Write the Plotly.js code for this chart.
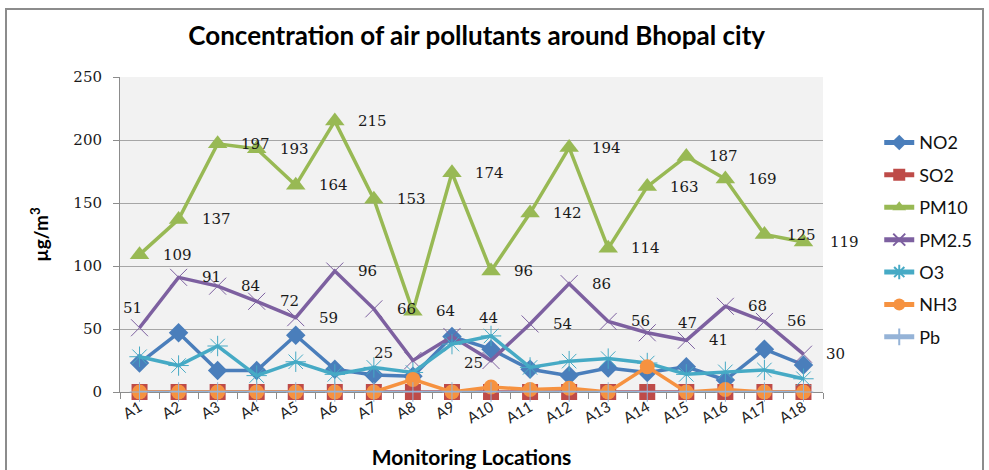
<!DOCTYPE html>
<html>
<head>
<meta charset="utf-8">
<script src="https://cdn.plot.ly/plotly-3.0.1.min.js"></script>
<style>
  html, body { margin: 0; padding: 0; background: #fff; }
  #wrap { position: relative; width: 989px; height: 470px; overflow: hidden; }
  #chart { width: 989px; height: 470px; }
  #frame { position: absolute; left: 5px; top: 8px; width: 979px; height: 480px;
           border: 2px solid #8c8c8c; pointer-events: none; box-sizing: border-box; }
</style>
</head>
<body>
<div id="wrap">
  <div id="chart"></div>
  <div id="frame"></div>
</div>
<script>
// ---- data ----
const locations = ["A1","A2","A3","A4","A5","A6","A7","A8","A9","A10","A11","A12","A13","A14","A15","A16","A17","A18"];
const no2  = [23, 47, 17, 17, 45, 18, 13.5, 12.5, 44, 34, 18, 13, 19, 15.5, 20, 9.5, 34, 21.5];
const so2  = [0, 0, 0, 0, 0, 0, 0, 0, 0, 0, 0, 0, 0, 0, 0, 0, 0, 0];
const pm10 = [109, 137, 197, 193, 164, 215, 153, 64, 174, 96, 142, 194, 114, 163, 187, 169, 125, 119];
const pm25 = [51, 91, 84, 72, 59, 96, 66, 25, 44, 25, 54, 86, 56, 47, 41, 68, 56, 30];
const o3   = [28, 21, 36.5, 13, 24, 14, 19.5, 15.5, 38, 44.5, 19.5, 24.5, 26.5, 23, 14, 16, 17.5, 10.5];
const nh3  = [0, 0, 0, 0, 0, 0, 0, 10, 0, 4, 2, 3, 0, 20, 0, 2, 0, 0];
const pb   = [0, 0, 0, 0, 0, 0, 0, 0, 0, 0, 0, 0, 0, 0, 0, 0, 0, 0];

// ---- label placement (style only) ----
const pm10LabelPos = locations.map((_, i) => ({xanchor: "left", xshift: i === 17 ? 25 : 21, yshift: 0}));
const pm25LabelPos = locations.map(() => ({xanchor: "left", xshift: 21, yshift: 0}));
pm25LabelPos[0]  = {xanchor: "center", xshift: -7, yshift: 20};
pm25LabelPos[7]  = {xanchor: "right", xshift: -18, yshift: 8};
pm25LabelPos[8]  = {xanchor: "left", xshift: 25, yshift: 19};
pm25LabelPos[9]  = {xanchor: "right", xshift: -6, yshift: -2};
pm25LabelPos[13] = {xanchor: "left", xshift: 29, yshift: 10};

const labelFont = {family: "DejaVu Serif, serif", size: 15, color: "#1a1a1a"};

function line(name, y, color, symbol, size, extra) {
  const t = {
    type: "scatter", mode: "lines+markers", name: name, x: locations, y: y,
    legendgroup: name, cliponaxis: false,
    line: {color: color, width: 3.5},
    marker: {symbol: symbol, size: size, color: color}
  };
  return Object.assign(t, extra || {});
}

const traces = [
  line("NO2", no2, "#4A7EBB", "diamond", 15),
  line("SO2", so2, "#BE4B48", "square", 16),
  line("PM10", pm10, "#98B954", "triangle-up", 17),
  line("PM2.5", pm25, "#7D60A0", "x-thin-open", 17,
       {marker: {symbol: "x-thin-open", size: 17, line: {color: "#9D86C0", width: 1}}}),
  line("O3", o3, "#46AAC5", "asterisk-open", 17,
       {marker: {symbol: "asterisk-open", size: 17, line: {color: "#6CC0D6", width: 1}}}),
  line("NH3", nh3, "#F69240", "circle", 15),
  line("Pb", pb, "#95B3D7", "cross-thin-open", 14,
       {line: {color: "#95B3D7", width: 2.5},
        marker: {symbol: "cross-thin-open", size: 14, line: {color: "#95B3D7", width: 1}}})
];

const annotations = [];
pm10.forEach((v, i) => {
  const p = pm10LabelPos[i];
  annotations.push({x: locations[i], y: v, text: String(v), showarrow: false,
    xanchor: p.xanchor, yanchor: "middle", xshift: p.xshift, yshift: p.yshift, font: labelFont});
});
pm25.forEach((v, i) => {
  const p = pm25LabelPos[i];
  annotations.push({x: locations[i], y: v, text: String(v), showarrow: false,
    xanchor: p.xanchor, yanchor: "middle", xshift: p.xshift, yshift: p.yshift, font: labelFont});
});

const layout = {
  width: 989, height: 470,
  margin: {l: 120, r: 154, t: 77, b: 78},
  paper_bgcolor: "#ffffff",
  plot_bgcolor: "#F2F2F2",
  title: {text: "Concentration of air pollutants around Bhopal city",
          font: {family: "Lato, sans-serif", size: 26, color: "#000", weight: "bold"},
          x: 0.482, xanchor: "center", y: 0.923, yanchor: "middle"},
  xaxis: {
    type: "category", range: [-0.5, locations.length - 0.5],
    title: {text: "Monitoring Locations", font: {family: "Lato, sans-serif", size: 21, color: "#000", weight: "bold"}, standoff: 24},
    tickangle: -30,
    tickfont: {family: "Lato, sans-serif", size: 15, color: "#222"},
    ticks: "outside", tickson: "boundaries", ticklen: 6, tickcolor: "#8c8c8c",
    showline: true, linecolor: "#8c8c8c", linewidth: 1,
    showgrid: false, zeroline: false, layer: "below traces", fixedrange: true
  },
  yaxis: {
    range: [0, 250], dtick: 50,
    title: {text: "µg/m<sup>3</sup>", font: {family: "Lato, sans-serif", size: 19, color: "#000", weight: "bold"}, standoff: 19},
    tickfont: {family: "DejaVu Serif, serif", size: 15, color: "#1a1a1a"},
    ticks: "outside", ticklen: 6, tickcolor: "#8c8c8c", ticklabelstandoff: 8,
    showline: true, linecolor: "#8c8c8c", linewidth: 1,
    showgrid: true, gridcolor: "#A6A6A6", gridwidth: 1,
    zeroline: false, layer: "below traces", fixedrange: true
  },
  legend: {
    x: 1.08, xanchor: "left", y: 0.85, yanchor: "top",
    font: {family: "Lato, sans-serif", size: 18, color: "#111"},
    tracegroupgap: 6, bgcolor: "rgba(0,0,0,0)", itemsizing: "constant"
  },
  annotations: annotations,
  showlegend: true
};

Plotly.newPlot("chart", traces, layout, {displayModeBar: false, staticPlot: true});
</script>
</body>
</html>
